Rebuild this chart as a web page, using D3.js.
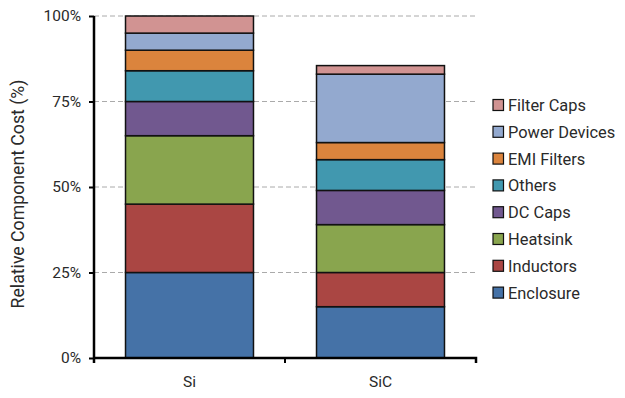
<!DOCTYPE html>
<html><head><meta charset="utf-8">
<script src="https://cdn.jsdelivr.net/npm/d3@7"></script>
<style>body{margin:0;background:#fff;} text{font-family:Roboto, "Liberation Sans", sans-serif;}</style>
</head><body><svg id="c" width="625" height="398"></svg>
<script>
const categories = ["Si", "SiC"];
const seriesNames = ["Enclosure", "Inductors", "Heatsink", "DC Caps", "Others", "EMI Filters", "Power Devices", "Filter Caps"];
const siValues  = [25, 20, 20, 10, 9, 6, 5, 5];
const sicValues = [15, 10, 14, 10, 9, 5, 20, 2.5];
const colors = ["#4572A7", "#AA4643", "#89A54E", "#71588F", "#4198AF", "#DB843D", "#93A9CF", "#D19392"];
const yTicks = [0, 25, 50, 75, 100];

const svg = d3.select("#c");
const m = {l: 94, r: 476, t: 16, b: 358};
const x = d3.scaleBand().domain(categories).range([m.l, m.r]).paddingInner(0.33).paddingOuter(0.165);
const y = d3.scaleLinear().domain([0, 100]).range([m.b, m.t]);

const rows = categories.map((c, i) => {
  const vals = i === 0 ? siValues : sicValues;
  const o = {cat: c};
  seriesNames.forEach((s, j) => o[s] = vals[j]);
  return o;
});
const stack = d3.stack().keys(seriesNames)(rows);

// gridlines
svg.append("g").selectAll("line").data(yTicks.filter(d => d > 0)).join("line")
  .attr("x1", m.l).attr("x2", m.r).attr("y1", d => y(d)).attr("y2", d => y(d))
  .attr("stroke", "#aaaaaa").attr("stroke-width", 1).attr("stroke-dasharray", "5,3");

// bars
svg.append("g").selectAll("g").data(stack).join("g")
  .attr("fill", (d, i) => colors[i])
  .selectAll("rect").data(d => d).join("rect")
  .attr("x", d => x(d.data.cat)).attr("width", x.bandwidth())
  .attr("y", d => y(d[1])).attr("height", d => y(d[0]) - y(d[1]))
  .attr("stroke", "#111").attr("stroke-width", 1.5);

// y axis
const ya = svg.append("g").attr("transform", `translate(${m.l},0)`)
  .call(d3.axisLeft(y).tickValues(yTicks).tickFormat(d => d + "%").tickSize(5).tickPadding(8));
ya.select(".domain").attr("d", `M0,${m.t}V${m.b + 5}`).attr("stroke", "#000").attr("stroke-width", 2.5);
ya.selectAll(".tick line").attr("stroke", "#000").attr("stroke-width", 2);
ya.selectAll(".tick text").attr("font-size", 15.5).attr("fill", "#2a2a2a").attr("font-family", "Roboto");

// x axis
const xa = svg.append("g").attr("transform", `translate(0,${m.b})`);
xa.append("path").attr("d", `M${m.l},0H${m.r}V5`).attr("fill", "none").attr("stroke", "#000").attr("stroke-width", 2.5);
xa.append("line").attr("x1", (m.l + m.r) / 2).attr("x2", (m.l + m.r) / 2).attr("y1", 0).attr("y2", 5)
  .attr("stroke", "#000").attr("stroke-width", 2);
xa.selectAll("text").data(categories).join("text")
  .attr("x", d => x(d) + x.bandwidth() / 2).attr("y", 29)
  .attr("text-anchor", "middle").attr("font-size", 15.5).attr("fill", "#2a2a2a").text(d => d);

// y title
svg.append("text").attr("transform", `translate(23.5,194) rotate(-90)`)
  .attr("text-anchor", "middle").attr("font-size", 17.7).attr("fill", "#2a2a2a").text("Relative Component Cost (%)");

// legend (reverse order)
const leg = svg.append("g").selectAll("g").data(seriesNames.slice().reverse()).join("g")
  .attr("transform", (d, i) => `translate(493,${105 + i * 26.8})`);
leg.append("rect").attr("x", 0).attr("y", -5.5).attr("width", 10.5).attr("height", 11)
  .attr("fill", d => colors[seriesNames.indexOf(d)]).attr("stroke", "#111").attr("stroke-width", 1.2);
leg.append("text").attr("x", 15).attr("y", 6).attr("font-size", 16.4).attr("fill", "#2a2a2a").text(d => d);
</script></body></html>
